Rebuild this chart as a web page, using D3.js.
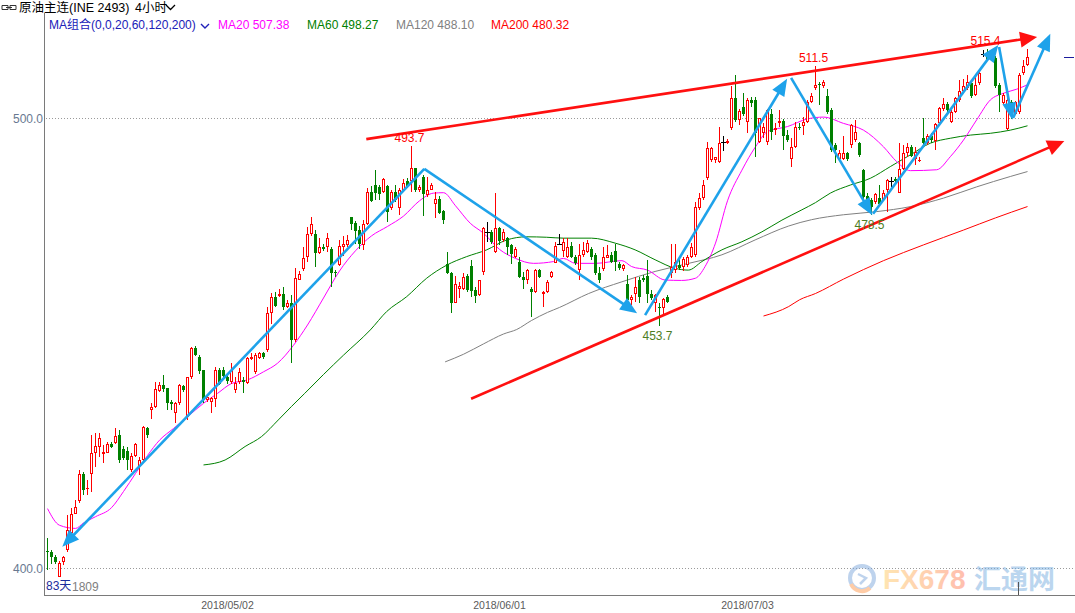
<!DOCTYPE html>
<html><head><meta charset="utf-8">
<script src="https://cdn.jsdelivr.net/npm/d3@7"></script>
<style>
body{margin:0;background:#fff;}
svg{display:block;font-family:"Liberation Sans","Noto Sans CJK SC",Arial,sans-serif;}
</style>
</head><body>
<svg id="chart" width="1075" height="613"></svg>
<script>
// ---------------- DATA ----------------
const opens=[403.8,403.6,402.5,398.1,401.4,404.0,407.7,412.1,414.9,420.9,417.5,421.0,425.6,426.8,425.3,425.6,427.5,427.7,429.5,426.4,
426.1,421.8,424.9,422.7,424.0,431.0,435.1,435.7,439.4,440.7,439.9,436.9,434.4,436.6,440.4,433.6,442.4,448.8,447.0,444.0,
437.3,437.0,437.5,444.1,444.0,442.4,441.4,439.5,441.4,441.8,441.2,446.4,443.6,446.6,447.8,448.4,456.7,460.3,460.4,460.9,
458.1,459.0,450.7,464.1,466.4,469.2,474.2,474.2,470.1,471.4,471.3,471.0,465.8,467.3,471.4,471.8,477.9,476.6,475.1,471.8,
476.4,483.6,485.1,484.6,483.6,484.9,479.9,483.6,479.9,484.0,485.9,485.9,488.8,483.9,486.8,482.9,484.1,481.0,482.1,479.4,
467.6,465.6,459.0,461.9,462.1,464.9,467.1,461.8,460.7,465.8,474.7,474.7,470.3,475.5,472.9,473.3,471.8,469.2,468.1,464.7,
464.0,461.9,461.4,466.2,461.0,461.4,464.6,467.8,472.1,470.5,469.2,471.6,469.2,466.2,469.6,470.3,470.8,469.6,465.5,466.4,
469.0,469.6,470.5,467.6,466.4,463.1,459.6,461.0,464.0,464.4,464.8,461.0,458.8,458.1,457.7,460.3,465.5,466.2,467.3,467.0,
467.3,469.2,469.6,479.9,482.2,486.6,490.7,490.7,490.3,494.7,494.5,497.7,504.4,499.6,502.5,499.2,504.0,504.1,494.7,496.6,
494.7,501.0,497.3,498.8,499.4,496.2,491.0,493.5,498.1,498.2,499.2,503.6,506.6,507.6,507.1,504.8,501.8,494.0,491.0,491.0,
492.2,494.0,495.1,494.4,488.5,482.7,481.8,481.4,482.2,481.8,484.0,485.9,486.4,483.4,488.6,492.3,493.6,491.0,490.5,495.5,
494.4,496.0,495.0,498.8,501.9,503.1,499.2,501.4,504.0,506.1,506.6,507.7,505.1,507.7,514.2,514.4,513.0,513.3,507.3,503.3,
497.5,503.6,501.0,501.4,510.0,511.8];
const highs=[406.6,404.0,402.9,401.6,402.7,411.8,413.3,415.1,421.8,421.4,419.6,429.6,429.9,429.9,427.3,428.1,428.1,431.0,430.7,427.1,
427.0,425.5,427.7,424.7,431.5,431.4,436.6,441.4,441.4,442.9,439.9,437.3,437.0,441.0,440.7,442.5,449.2,449.3,447.3,444.1,
438.4,438.1,444.7,444.4,444.7,443.3,445.5,442.5,444.4,442.5,447.0,447.8,447.7,448.1,448.1,458.1,461.2,461.4,462.1,462.4,
459.6,460.7,466.6,465.9,471.3,475.8,477.9,475.1,473.3,472.1,474.4,471.4,466.2,472.9,473.8,474.0,478.1,477.2,475.9,477.3,
484.4,484.9,488.4,485.1,486.6,485.1,484.0,485.1,484.4,486.4,486.6,493.7,488.9,485.1,487.3,487.0,485.6,483.6,482.7,479.6,
470.3,465.8,464.9,463.6,465.6,465.3,468.4,462.5,464.1,475.8,477.0,475.1,483.4,475.7,475.3,473.5,472.1,471.4,469.2,465.8,
466.4,462.5,466.4,466.4,461.6,464.0,466.1,472.5,474.2,473.3,473.3,472.5,469.6,472.1,472.5,472.9,471.4,469.9,467.0,471.4,
471.8,470.3,472.1,468.1,467.6,465.1,460.7,464.7,464.7,465.1,468.5,461.8,461.0,458.8,459.9,460.7,472.1,472.1,468.8,469.2,
469.6,472.3,481.4,483.4,486.2,494.7,493.6,491.4,498.1,495.9,495.3,507.0,509.6,501.9,505.5,504.4,504.6,504.6,500.1,498.8,
501.9,501.9,498.8,501.8,499.7,497.3,495.5,499.2,498.8,500.3,504.0,505.5,511.5,508.1,508.4,506.4,502.2,494.4,492.9,495.9,
492.5,498.7,499.6,494.7,488.7,483.3,482.2,483.4,485.1,484.0,486.4,487.0,487.0,494.4,494.0,494.4,494.0,493.6,491.4,499.9,
496.5,496.6,499.0,502.5,504.4,503.6,501.8,504.7,508.4,508.6,509.6,508.4,509.2,510.3,515.1,515.4,514.0,513.8,507.7,505.5,
504.4,504.0,503.8,510.0,513.0,515.3];
const lows=[399.6,401.0,401.0,397.9,400.7,403.6,407.3,412.0,414.4,416.2,416.2,417.0,422.5,424.6,423.3,425.5,426.6,427.5,423.4,424.0,
421.8,421.4,424.7,420.7,423.3,428.8,433.0,435.5,439.2,439.2,435.1,435.1,432.3,436.2,439.2,432.9,442.1,447.1,443.1,436.6,
437.0,434.5,435.8,440.7,442.1,441.0,441.0,438.8,441.0,438.9,440.9,446.2,443.1,446.4,446.4,448.1,454.2,458.1,460.3,457.3,
457.7,445.5,450.3,463.9,466.1,468.1,473.8,467.0,469.8,470.5,470.3,462.5,464.7,467.1,469.3,471.4,475.1,472.1,471.0,470.7,
476.2,481.3,481.8,481.8,483.3,477.0,479.6,481.4,478.4,483.6,484.4,483.6,483.6,483.6,478.2,482.5,483.9,477.7,478.7,476.4,
465.3,456.6,458.8,459.9,461.8,461.4,460.3,458.8,460.4,465.1,472.5,472.1,470.1,471.8,472.5,469.6,467.6,468.8,464.4,461.9,
463.1,455.7,461.2,464.4,458.1,461.2,464.4,467.7,471.8,469.2,468.8,468.8,467.3,464.0,469.2,469.9,468.5,465.1,463.4,466.1,
468.8,467.7,465.9,466.2,466.1,459.4,458.5,459.2,458.8,463.6,458.8,459.6,457.0,453.7,455.9,458.8,464.4,465.5,466.2,465.9,
467.0,468.8,469.2,479.6,481.8,486.2,490.3,489.9,490.1,492.7,494.2,497.3,499.2,498.4,500.4,496.7,502.5,491.3,494.4,495.5,
494.0,495.1,496.2,498.1,492.9,494.7,489.2,493.3,497.3,496.2,498.8,503.3,506.2,502.9,506.6,501.0,492.5,489.9,490.7,490.7,
490.5,493.3,494.7,491.4,480.7,480.7,478.5,481.0,480.9,481.6,479.2,484.7,485.6,483.3,488.4,491.4,491.3,489.6,490.3,494.0,
494.0,494.4,492.9,498.5,501.6,501.0,498.8,501.2,503.6,505.9,506.2,504.4,504.8,507.3,513.6,512.7,512.9,506.6,501.4,502.9,
497.3,499.7,500.7,501.0,509.6,511.6];
const closes=[403.5,402.4,401.4,401.2,402.4,408.4,412.1,413.5,420.9,417.3,417.8,425.6,427.1,428.8,425.8,427.5,427.0,429.4,424.1,424.4,
424.0,424.9,427.5,424.0,431.3,429.5,435.7,439.7,440.7,439.8,436.7,436.4,436.6,440.7,439.5,442.4,448.8,447.3,443.8,437.3,
437.9,437.7,444.1,441.0,442.7,441.6,444.1,441.2,443.5,441.4,446.6,447.0,447.3,447.8,446.8,456.7,460.3,458.2,460.9,457.9,
459.0,450.7,464.4,465.3,469.0,474.2,476.4,470.1,471.3,471.0,473.3,465.6,465.5,471.6,472.0,472.9,476.4,475.0,472.1,476.4,
483.6,481.6,483.3,483.1,486.4,479.2,483.6,481.8,484.0,485.6,484.9,488.8,484.0,484.6,483.1,484.1,485.1,482.1,478.8,477.3,
465.5,458.8,463.1,462.7,464.7,461.8,461.6,460.5,464.0,475.6,474.7,472.5,475.5,472.7,474.7,471.3,469.8,471.0,464.6,464.0,
466.2,461.4,466.2,464.7,461.3,463.6,465.8,471.6,472.1,472.5,471.4,469.2,467.7,469.6,470.7,472.3,469.2,465.5,464.0,469.2,
469.6,468.1,468.1,466.6,467.3,459.6,460.3,462.5,460.3,464.0,461.0,459.9,460.7,457.7,459.7,459.2,467.0,468.1,466.6,468.6,
469.2,471.4,480.3,482.2,485.1,493.3,493.3,491.3,494.4,494.7,495.0,504.4,499.6,501.6,501.0,504.1,503.3,496.6,499.9,498.1,
501.8,497.0,497.7,499.3,495.9,495.1,493.6,498.1,497.7,499.2,503.6,504.9,507.3,507.3,508.1,501.4,492.9,492.9,492.3,492.2,
490.8,498.5,497.0,491.8,482.5,481.4,480.3,483.1,481.0,483.4,486.2,485.9,485.9,488.6,492.3,493.6,491.6,492.5,490.7,494.4,
496.0,495.1,498.7,502.2,503.1,501.8,501.4,504.4,506.1,507.1,508.1,504.8,507.3,510.0,514.2,513.0,513.5,507.1,505.1,505.1,
504.0,501.0,503.6,509.6,511.6,513.5];

// moving averages: [bar index, value]
const ma20=[[1,413.2],[4,409.5],[8,408.8],[10,410],[13,411.4],[17,413.4],[20,417],[23,421],[26,425],[29,428.4],[32.5,431],[36,433.6],[40,436.6],[43.5,438.8],[47,441],[51,441.8],[55,443.6],[58.5,445.5],[62.5,449.5],[66,454],[70,460],[74,466],[78,470.5],[82,473.8],[86,475.9],[90,478.2],[94,481.6],[97.5,483.3],[100,483.4],[103,480.5],[106.7,476.6],[110,474.4],[114,470.8],[118,468.8],[122.5,467.7],[127.5,468.1],[130,468.8],[133,467.7],[138,467.7],[144.6,468.3],[147,467.0],[151,466.2],[155.4,464.0],[159.5,463.9],[163,464.4],[165.4,467.0],[168,472.2],[171,481.6],[174.6,488.4],[178,493.6],[181,497.0],[186,498.1],[191,499.8],[195,500.2],[200,498.8],[205,497.3],[210,493.6],[213.3,490.3],[216.7,488.3],[223.3,488.5],[226.7,491.4],[230,495.1],[233.3,499.6],[236.7,504.0],[240,505.5],[243.3,506.4],[246,507.38]];
const ma60=[[40,422.9],[45.4,424.0],[50.4,427.0],[54.5,429.2],[58.7,432.9],[62,435.9],[65.3,438.8],[70,443],[75,447.3],[81.7,452.9],[85.8,457.0],[90.8,460.3],[95.8,464.4],[100.8,467.3],[105.8,469.2],[110.8,470.7],[115.8,472.9],[120.8,473.6],[125.8,473.5],[130,473.3],[137,473.3],[142.9,472.2],[147.9,470.7],[152.9,468.5],[157.9,466.6],[161.2,466.2],[164.6,468.1],[169.6,470.7],[174.6,472.5],[179.6,474.7],[184.6,477.3],[189.6,479.6],[193,481.2],[196.7,483.3],[201.7,485.1],[206.7,486.6],[211.7,489.2],[216.7,491.8],[221.7,494.4],[226.7,495.5],[231.7,496.2],[236.7,496.6],[241.7,497.3],[246,498.27]];
const ma120=[[100.4,445.8],[105,447.5],[110,449.8],[115,452],[118.3,453.0],[122,455],[126,456.8],[129,457.9],[136.3,461.0],[144.6,463.6],[152.9,465.9],[161.3,467.7],[169.6,469.6],[177.9,472.9],[186.3,476.0],[192,477.4],[200,478.5],[208.3,479.2],[216.7,480.3],[225,482.2],[233.3,484.7],[241.7,487.0],[246,488.10]];
const ma200=[[180,456.0],[186.3,458.1],[189,459.6],[193,461.0],[200,464.2],[210,468.3],[220,471.8],[230,475.1],[238,477.8],[246,480.32]];

const maLegend=[["MA20","507.38","#ff00ff"],["MA60","498.27","#008000"],["MA120","488.10","#808080"],["MA200","480.32","#ff0000"]];
const dateLabels=["2018/05/02","2018/06/01","2018/07/03"];
const dateBars=[46,114,176];
const yTicks=[400,500];

// annotations (bar index, price)
const redTrends=[[[80.7,495.3],[248.4,518.0]],[[106.9,437.6],[255.2,494.9]]];
const blueArrows=[[[95.2,488.7],[4.7,404.7]],[[95.2,488.7],[148.4,456.6]],[[150.4,456.2],[185.9,508.7]],
  [[186.9,508.9],[207.2,478.4]],[[207.4,478.7],[238.7,516.2]],[[238.9,515.8],[242.2,499.6]],[[242.4,500.0],[251.7,518.7]]];
const highMarks=[92,193,236];
const lowMarks=[154,207];

// ---------------- CHART ----------------
const svg=d3.select("#chart");
const N=opens.length;
const x=d3.scaleLinear().domain([1,N]).range([47.5,47.5+4*(N-1)]);
const y=d3.scaleLinear().domain([400,500]).range([568,118]);

// grid lines
svg.append("g").selectAll("line").data(yTicks).join("line")
  .attr("x1",46).attr("x2",1075).attr("y1",d=>Math.round(y(d))+0.5).attr("y2",d=>Math.round(y(d))+0.5)
  .attr("stroke","#9a9a9a").attr("stroke-dasharray","1,2");
svg.append("g").selectAll("text").data(yTicks).join("text")
  .attr("x",43).attr("y",d=>y(d)+5).attr("text-anchor","end").attr("font-size",12).attr("fill","#687890")
  .text(d=>d.toFixed(1));

// axes frame
svg.append("line").attr("x1",44.5).attr("x2",44.5).attr("y1",13).attr("y2",596).attr("stroke","#7a7a7a");
svg.append("line").attr("x1",44).attr("x2",1075).attr("y1",595.5).attr("y2",595.5).attr("stroke","#7a7a7a");
svg.append("g").selectAll("text").data(dateLabels).join("text")
  .attr("x",(d,i)=>x(dateBars[i])).attr("y",609).attr("text-anchor","middle").attr("font-size",10.5).attr("fill","#5a5a5a")
  .text(d=>d);

// watermark
const wm=svg.append("g").attr("opacity",0.5);
const grad=svg.append("defs").append("linearGradient").attr("id","wg").attr("x1","0").attr("x2","1");
grad.append("stop").attr("offset","0").attr("stop-color","#ffcc66");
grad.append("stop").attr("offset","1").attr("stop-color","#ff7f60");
wm.append("circle").attr("cx",862).attr("cy",578).attr("r",12).attr("fill","none").attr("stroke","#7fa8dc").attr("stroke-width",4);
wm.append("path").attr("d","M851,584 A12,12 0 0 0 870,588").attr("fill","none").attr("stroke","#ff9a50").attr("stroke-width",4);
wm.append("path").attr("d","M858,574 L866,578 L860,584").attr("fill","none").attr("stroke","#7fa8dc").attr("stroke-width",2.5);
wm.append("text").attr("x",883).attr("y",589).attr("font-size",28).attr("font-weight","bold").attr("fill","url(#wg)").text("FX678");
wm.append("text").attr("x",974).attr("y",589).attr("font-size",27).attr("font-weight","bold").attr("fill","#7aaee0")
  .attr("font-family","Noto Sans CJK SC").text("汇通网");

// moving averages
const line=d3.line().x(d=>x(d[0])).y(d=>y(d[1])).curve(d3.curveMonotoneX);
[[ma200,"#ff0000"],[ma120,"#808080"],[ma60,"#008000"],[ma20,"#ff00ff"]].forEach(([data,col])=>{
  svg.append("path").attr("d",line(data)).attr("fill","none").attr("stroke",col).attr("stroke-width",1);
});

// candles
const candles=opens.map((o,k)=>({i:k+1,o,h:highs[k],l:lows[k],c:closes[k]}));
const cg=svg.append("g").attr("shape-rendering","crispEdges");
candles.forEach(d=>{
  const cx=x(d.i);
  const yo=Math.round(y(d.o)), yc=Math.round(y(d.c)), yh=Math.round(y(d.h)), yl=Math.round(y(d.l));
  const top=Math.min(yo,yc), bot=Math.max(yo,yc);
  if(d.c>d.o){
    const col="#ff0000";
    cg.append("line").attr("x1",cx).attr("x2",cx).attr("y1",yh).attr("y2",top).attr("stroke",col);
    cg.append("line").attr("x1",cx).attr("x2",cx).attr("y1",bot).attr("y2",yl).attr("stroke",col);
    cg.append("rect").attr("x",cx-1.5).attr("y",top).attr("width",3).attr("height",Math.max(1,bot-top)).attr("fill",col);
    if(bot-top>2) cg.append("rect").attr("x",cx-0.5).attr("y",top+1).attr("width",1).attr("height",bot-top-2).attr("fill","#fff");
  } else if(d.c<d.o){
    const col="#008000";
    cg.append("line").attr("x1",cx).attr("x2",cx).attr("y1",yh).attr("y2",yl).attr("stroke",col);
    cg.append("rect").attr("x",cx-1.5).attr("y",top).attr("width",3).attr("height",Math.max(1,bot-top)).attr("fill",col);
  } else {
    cg.append("line").attr("x1",cx).attr("x2",cx).attr("y1",yh).attr("y2",yl).attr("stroke","#000");
    cg.append("rect").attr("x",cx-2.5).attr("y",top).attr("width",5).attr("height",1).attr("fill","#000");
  }
});

// arrows
function arrow(p0,p1,col,w,len,hw){
  const x0=x(p0[0]),y0=y(p0[1]),x1=x(p1[0]),y1=y(p1[1]);
  const dx=x1-x0,dy=y1-y0,L=Math.hypot(dx,dy),ux=dx/L,uy=dy/L;
  const bx=x1-ux*len,by=y1-uy*len;
  svg.append("line").attr("x1",x0).attr("y1",y0).attr("x2",bx+ux*2).attr("y2",by+uy*2)
    .attr("stroke",col).attr("stroke-width",w);
  svg.append("path").attr("d",`M${x1},${y1}L${bx-uy*hw},${by+ux*hw}L${bx+uy*hw},${by-ux*hw}Z`).attr("fill",col);
}
redTrends.forEach(t=>arrow(t[0],t[1],"#ff1010",2.6,17,8));
blueArrows.forEach(t=>arrow(t[0],t[1],"#1ea2ea",2.6,17,7));

// high / low labels
svg.append("g").selectAll("text").data(highMarks).join("text")
  .attr("x",d=>x(d)-2).attr("y",d=>y(highs[d-1])-4).attr("text-anchor","middle").attr("font-size",12).attr("fill","#ff0000")
  .text(d=>highs[d-1].toFixed(1));
svg.append("g").selectAll("text").data(lowMarks).join("text")
  .attr("x",d=>x(d)-2).attr("y",d=>y(lows[d-1])+14).attr("text-anchor","middle").attr("font-size",12).attr("fill","#4d7d24")
  .text(d=>lows[d-1].toFixed(1));

// last price marker
svg.append("line").attr("x1",1064).attr("x2",1074).attr("y1",Math.round(y(closes[N-1]))+0.5).attr("y2",Math.round(y(closes[N-1]))+0.5).attr("stroke","#1c1c9c");
svg.append("line").attr("x1",1018.5).attr("x2",1018.5).attr("y1",582).attr("y2",595).attr("stroke","#555");

// header
svg.append("path").attr("d","M2,5.5h6v4h-6z M10,5.5h6v4h-6z M6,7.5h6").attr("fill","none").attr("stroke","#333").attr("stroke-width",1);
svg.append("text").attr("x",19).attr("y",12).attr("font-size",12.5).attr("fill","#000").text("原油主连(INE 2493)");
svg.append("text").attr("x",135).attr("y",12).attr("font-size",12.5).attr("fill","#000").text("4小时");
svg.append("path").attr("d","M166,5l4.5,4.5l4.5,-4.5").attr("fill","none").attr("stroke","#000").attr("stroke-width",1.3);
svg.append("text").attr("x",49).attr("y",29).attr("font-size",12).attr("fill","#2020b8").text("MA组合(0,0,20,60,120,200)");
svg.append("path").attr("d","M201,24l4,4l4,-4").attr("fill","none").attr("stroke","#2020b8").attr("stroke-width",1.4);
const legX=[218,307,396,491];
svg.append("g").selectAll("text").data(maLegend).join("text")
  .attr("x",(d,i)=>legX[i]).attr("y",29).attr("font-size",12).attr("fill",d=>d[2]).text(d=>d[0]+" "+d[1]);

// bottom-left label
svg.append("text").attr("x",46).attr("y",590).attr("font-size",12).attr("fill","#1c2c9c").text("83天");
svg.append("text").attr("x",72).attr("y",591).attr("font-size",12).attr("fill","#808080").text("1809");
</script>
</body></html>
